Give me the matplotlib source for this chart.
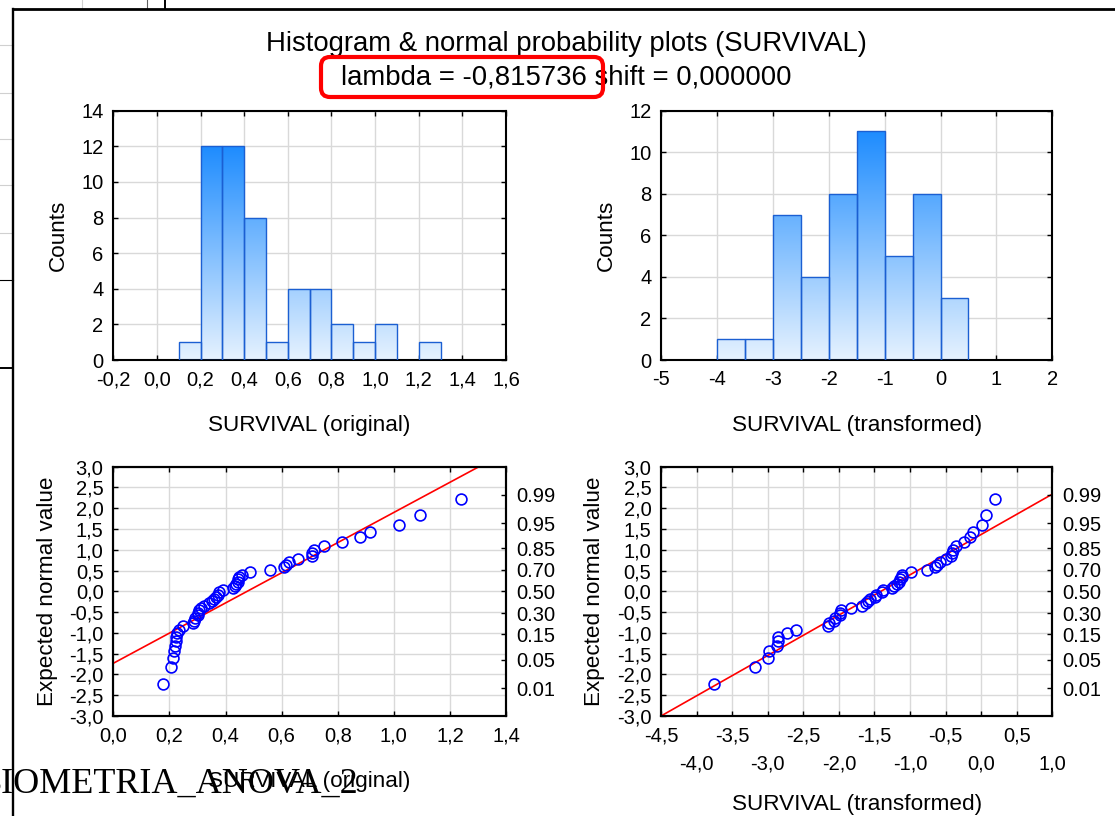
import numpy as np
import matplotlib
matplotlib.use("Agg")
import matplotlib.pyplot as plt
from matplotlib.colors import LinearSegmentedColormap
from matplotlib.patches import FancyBboxPatch
from matplotlib.lines import Line2D
from matplotlib.transforms import IdentityTransform
from statistics import NormalDist

W, H = 1115, 816

# SURVIVAL values, sorted
survival_original = [
    0.178, 0.205, 0.213, 0.215, 0.220, 0.222, 0.225, 0.228, 0.236, 0.247,
    0.283, 0.288, 0.292, 0.301, 0.302, 0.305, 0.312, 0.322, 0.340, 0.352,
    0.358, 0.366, 0.372, 0.378, 0.392, 0.428, 0.433, 0.438, 0.443, 0.446,
    0.449, 0.458, 0.488, 0.559, 0.608, 0.614, 0.627, 0.659, 0.707, 0.710,
    0.716, 0.752, 0.815, 0.879, 0.916, 1.018, 1.094, 1.238,
]
survival_transformed = [
    -3.761, -3.178, -2.990, -2.985, -2.870, -2.860, -2.850, -2.729, -2.604, -2.155,
    -2.145, -2.065, -2.055, -1.985, -1.980, -1.975, -1.830, -1.681, -1.616, -1.596,
    -1.556, -1.491, -1.481, -1.396, -1.381, -1.257, -1.232, -1.182, -1.157, -1.142,
    -1.117, -1.107, -0.992, -0.757, -0.643, -0.618, -0.583, -0.490, -0.420, -0.416,
    -0.398, -0.348, -0.243, -0.159, -0.119, 0.006, 0.066, 0.191,
]
# normal reference lines (mean, sd) as drawn in the picture
line_original = (0.477, 0.2755)
line_transformed = (-1.41, 1.03)
boxcox_lambda = -0.815736
boxcox_shift = 0.0

orig_bin_edges = np.linspace(-0.2, 1.6, 19)
trans_bin_edges = np.linspace(-5.0, 2.0, 15)
prob_levels = [0.01, 0.05, 0.15, 0.30, 0.50, 0.70, 0.85, 0.95, 0.99]

TICK_FS = 14.5
LABEL_FS = 16.2
TITLE_FS = 19.8

plt.rcParams["font.family"] = ["Liberation Sans", "DejaVu Sans"]
plt.rcParams["axes.unicode_minus"] = False
bar_cmap = LinearSegmentedColormap.from_list("bars", ["#E6F2FE", "#1E8CFF"])

fig = plt.figure(figsize=(W / 100, H / 100), dpi=100)


def axes_px(x0, y0, x1, y1):
    return fig.add_axes([x0 / W, 1 - y1 / H, (x1 - x0) / W, (y1 - y0) / H])


def comma(v, d=1):
    return f"{v:.{d}f}".replace(".", ",")


def line_px(xs, ys, **kw):
    fig.add_artist(Line2D(xs, [H - y for y in ys], transform=IdentityTransform(), **kw))


def style(ax, right=True):
    ax.grid(True, which="both", color="#D9D9D9", lw=1.0)
    ax.set_axisbelow(True)
    for s in ax.spines.values():
        s.set_linewidth(1.5)
    ax.tick_params(which="both", direction="in", length=3.5, width=1.0, top=True,
                   right=right, labelsize=TICK_FS, pad=7)
    ax.tick_params(axis="x", which="major", pad=7.5)


def draw_hist(ax, values, edges):
    counts, _ = np.histogram(values, bins=edges)
    keep = counts > 0
    bars = ax.bar(edges[:-1][keep], counts[keep], width=np.diff(edges)[keep], align="edge",
                  facecolor="none", edgecolor="#1B5FD2", linewidth=1.0, zorder=3)
    grad = np.linspace(0, 1, 256).reshape(-1, 1)
    for b in bars:
        im = ax.imshow(grad, extent=[b.get_x(), b.get_x() + b.get_width(), 0, counts.max()],
                       origin="lower", aspect="auto", cmap=bar_cmap, zorder=2,
                       interpolation="bilinear")
        im.set_clip_path(b)
    ax.set_xlim(edges[0], edges[-1])


def draw_qq(ax, values, line):
    x = np.sort(np.asarray(values))
    n = len(x)
    z = np.array([NormalDist().inv_cdf((i - 0.375) / (n + 0.25)) for i in range(1, n + 1)])
    xl = np.array(ax.get_xlim())
    m, s = line
    ax.plot(xl, (xl - m) / s, color="#FF0000", lw=1.2, zorder=3)
    ax.plot(x, z, "o", mfc="none", mec="#0000FF", ms=7.8, mew=1.2, zorder=4)
    ax.set_xlim(*xl)
    ax.set_ylim(-3, 3)
    yt = np.arange(-3, 3.01, 0.5)
    ax.set_yticks(yt, [comma(v) for v in yt])
    ax.set_ylabel("Expected normal value", fontsize=LABEL_FS)
    ax2 = ax.twinx()
    ax2.set_ylim(-3, 3)
    ax2.set_yticks([NormalDist().inv_cdf(p) for p in prob_levels],
                   [f"{p:.2f}" for p in prob_levels])
    ax2.tick_params(direction="in", length=3.5, width=1.0, labelsize=TICK_FS, pad=7.5)
    for sp in ax2.spines.values():
        sp.set_linewidth(1.5)


# ---- background of the screenshot (spreadsheet behind the graph window)
for y in [45, 93, 139, 185, 233]:
    line_px([0, 13], [y, y], color="#D0D0D0", lw=0.8)
line_px([0, 13], [280, 280], color="black", lw=0.8)
line_px([0, 13], [368, 368], color="black", lw=1.4)
line_px([82, 82], [0, 9], color="#D0D0D0", lw=0.8)
line_px([147, 147], [0, 9], color="#606060", lw=0.8)
line_px([165, 165], [0, 9], color="black", lw=1.4)
fig.text(-22 / W, 1 - 793 / H, "BIOMETRIA_ANOVA_2", family="Liberation Serif",
         fontsize=26, ha="left", va="baseline")
line_px([13, W], [9, 9], color="black", lw=2.0)
line_px([13, 13], [9, H], color="black", lw=1.7)

# ---- titles
fig.text(566 / W, 1 - 44 / H, "Histogram & normal probability plots (SURVIVAL)",
         fontsize=TITLE_FS, ha="center", va="center")
fig.text(566 / W, 1 - 77 / H,
         f"lambda = {comma(boxcox_lambda, 6)} shift = {comma(boxcox_shift, 6)}",
         fontsize=TITLE_FS, ha="center", va="center")
fig.add_artist(FancyBboxPatch((321, H - 97), 282, 40, boxstyle="round,pad=0,rounding_size=9",
                              transform=IdentityTransform(), fill=False,
                              edgecolor="#FF0000", lw=3.0, zorder=5))

# ---- top-left histogram
ax1 = axes_px(113.3, 110.7, 506, 360)
draw_hist(ax1, survival_original, orig_bin_edges)
ax1.set_ylim(0, 14)
ax1.set_yticks(np.arange(0, 15, 2))
xt = np.linspace(-0.2, 1.6, 10)
ax1.set_xticks(xt, [comma(v) for v in xt])
style(ax1)
ax1.set_ylabel("Counts", fontsize=LABEL_FS)
ax1.yaxis.set_label_coords(-0.112, 0.5)
ax1.set_xlabel("SURVIVAL (original)", fontsize=LABEL_FS)
ax1.xaxis.set_label_coords(0.5, -0.222)

# ---- top-right histogram
ax2 = axes_px(661, 110.7, 1052.3, 360)
draw_hist(ax2, survival_transformed, trans_bin_edges)
ax2.set_ylim(0, 12)
ax2.set_yticks(np.arange(0, 13, 2))
ax2.set_xticks(np.arange(-5, 3, 1))
style(ax2)
ax2.set_ylabel("Counts", fontsize=LABEL_FS)
ax2.yaxis.set_label_coords(-0.114, 0.5)
ax2.set_xlabel("SURVIVAL (transformed)", fontsize=LABEL_FS)
ax2.xaxis.set_label_coords(0.5, -0.222)

# ---- bottom-left normal probability plot
ax3 = axes_px(113.3, 466.7, 506, 716)
ax3.set_xlim(0, 1.4)
xt = np.linspace(0, 1.4, 8)
ax3.set_xticks(xt, [comma(v) for v in xt])
style(ax3, right=False)
draw_qq(ax3, survival_original, line_original)
ax3.yaxis.set_label_coords(-0.142, 0.5)
ax3.set_xlabel("SURVIVAL (original)", fontsize=LABEL_FS)
ax3.xaxis.set_label_coords(0.5, -0.219)

# ---- bottom-right normal probability plot
ax4 = axes_px(661, 466.7, 1052.3, 716)
ax4.set_xlim(-4.5, 1.0)
major = np.arange(-4.5, 0.6, 1.0)
minor = np.arange(-4.0, 1.1, 1.0)
ax4.set_xticks(major, [comma(v) for v in major])
ax4.set_xticks(minor, [comma(v) for v in minor], minor=True)
style(ax4, right=False)
ax4.tick_params(axis="x", which="minor", pad=28, labelsize=TICK_FS)
draw_qq(ax4, survival_transformed, line_transformed)
ax4.yaxis.set_label_coords(-0.144, 0.5)
ax4.set_xlabel("SURVIVAL (transformed)", fontsize=LABEL_FS)
ax4.xaxis.set_label_coords(0.5, -0.311)

fig.savefig("out.png", dpi=100, facecolor="white")
